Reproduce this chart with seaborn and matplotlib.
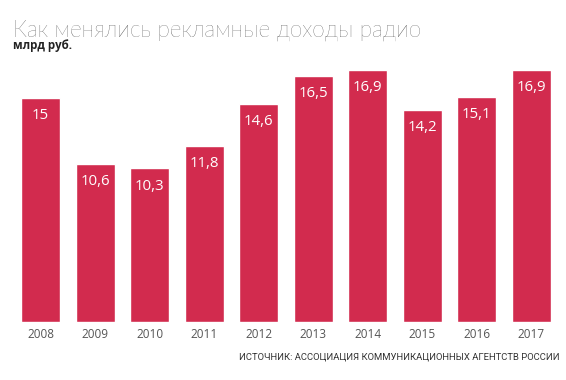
import matplotlib
matplotlib.use("Agg")
import matplotlib.pyplot as plt
import seaborn as sns
import pandas as pd

# data
years = ['2008', '2009', '2010', '2011', '2012', '2013', '2014', '2015', '2016', '2017']
revenue = [15, 10.6, 10.3, 11.8, 14.6, 16.5, 16.9, 14.2, 15.1, 16.9]
value_labels = ['15', '10,6', '10,3', '11,8', '14,6', '16,5', '16,9', '14,2', '15,1', '16,9']

title = 'Как менялись рекламные доходы радио'
units = 'млрд руб.'
source = 'ИСТОЧНИК: АССОЦИАЦИЯ КОММУНИКАЦИОННЫХ АГЕНТСТВ РОССИИ'

bar_color = '#D22B4E'

sns.set_style('white')
plt.rcParams['font.family'] = ['Open Sans', 'DejaVu Sans']

df = pd.DataFrame({'year': years, 'revenue': revenue})

fig = plt.figure(figsize=(5.66, 3.8), dpi=100)
# axes from x=21..551 px, y=60..322 px
ax = fig.add_axes([21 / 566, 1 - 322 / 380, 530 / 566, 262 / 380])
sns.barplot(data=df, x='year', y='revenue', color=bar_color, saturation=1,
            width=0.72, ax=ax)

ax.set_xlim(-0.36, 9.36)
ax.set_ylim(0, 17.55)
# value labels inside the bars
for i, (v, lab) in enumerate(zip(revenue, value_labels)):
    ax.text(i, v - 1.2, lab, ha='center', va='center', color='white', fontsize=10.8)

sns.despine(ax=ax, left=True, bottom=True)
ax.set_yticks([])
ax.set_xlabel('')
ax.set_ylabel('')
ax.tick_params(axis='x', length=0, pad=4, labelsize=8.5, labelcolor='#555555')

fig.text(13 / 566, 1 - 30 / 380, title, fontsize=16.3, fontweight='light',
         family=['Lato', 'DejaVu Sans'], color='#222222', va='center', ha='left')
fig.text(13 / 566, 1 - 46 / 380, units, fontsize=8.3, fontweight='bold',
         color='#222222', va='center', ha='left')
fig.text(560 / 566, 1 - 357 / 380, source, fontsize=6.8,
         family=['Roboto', 'DejaVu Sans'], color='#333333',
         va='center', ha='right')

fig.savefig('out.png', dpi=100)
